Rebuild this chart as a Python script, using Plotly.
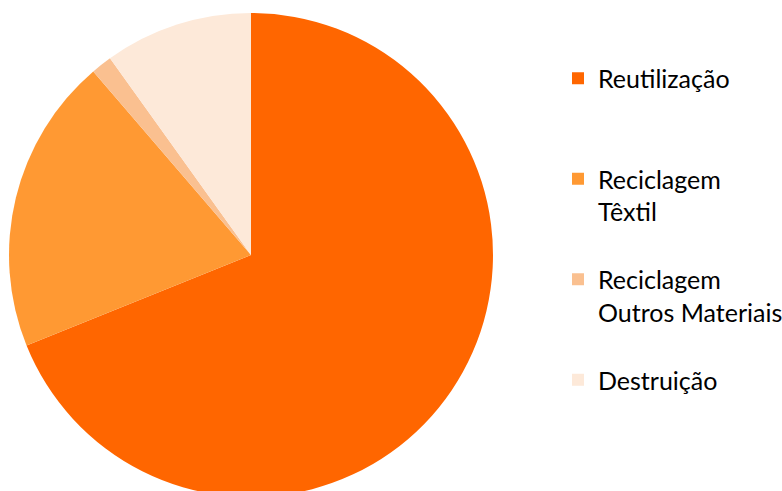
import plotly.graph_objects as go

labels = ["Reutilização", "Reciclagem Têxtil", "Reciclagem Outros Materiais", "Destruição"]
legend_text = [
    "\u00a0<br>Reutilização<br>\u00a0",
    "\u00a0<br>Reciclagem<br>Têxtil",
    "\u00a0<br>Reciclagem<br>Outros Materiais",
    "\u00a0<br>Destruição<br>\u00a0",
]
values = [68.9, 19.8, 1.4, 9.9]
colors = ["#FF6600", "#FF9933", "#FAC090", "#FDE9D9"]

W, H = 800, 505
fig = go.Figure(go.Pie(
    labels=legend_text,
    values=values,
    customdata=labels,
    sort=False,
    direction="clockwise",
    rotation=0,
    marker=dict(colors=colors, line=dict(width=0)),
    textinfo="none",
    hovertemplate="%{customdata}: %{value}<extra></extra>",
    domain=dict(x=[9 / W, 493 / W], y=[(H - 497) / H, (H - 13) / H]),
))

fig.update_layout(
    width=W, height=H,
    margin=dict(l=0, r=0, t=0, b=0),
    paper_bgcolor="white",
    font=dict(family="Lato, Liberation Sans, sans-serif", size=25, color="#000000"),
    legend=dict(x=558 / W, xanchor="left", y=(H - 23) / H, yanchor="top",
                font=dict(size=25), bgcolor="rgba(0,0,0,0)"),
    showlegend=True,
)

fig.write_html("out.html", config={"displayModeBar": False},
               post_script="document.body.style.margin='0';document.body.style.overflow='hidden';")
